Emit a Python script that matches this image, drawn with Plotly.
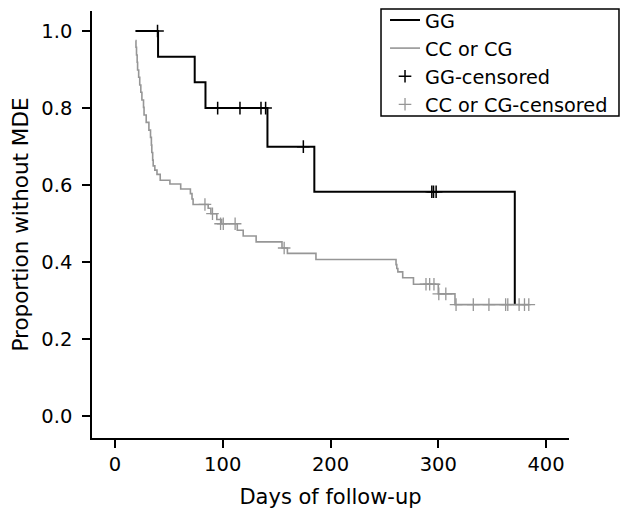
import plotly.graph_objects as go

# GG group (Kaplan-Meier steps)
gg_days = [19, 40, 74, 84, 141.5, 185, 371]
gg_surv = [1.0, 0.933, 0.867, 0.800, 0.700, 0.583, 0.292]
gg_cens_days = [39.5, 95.3, 116, 135.5, 139.8, 174.8, 294, 295.6, 298]
gg_cens_surv = [1.0, 0.8, 0.8, 0.8, 0.8, 0.7, 0.583, 0.583, 0.583]

# CC or CG group
cc_days = [19, 19.5, 20, 20.6, 21, 22, 23, 24, 25, 26.5, 27, 29, 31.5, 33, 33.8,
           34.2, 35, 35.5, 37, 39, 42, 51, 61, 70, 71.5, 72.5, 86.5, 89, 94.5, 99,
           113.5, 119, 131, 155, 160, 186.5, 260.8, 261.5, 262.5, 267, 277, 300,
           315.5, 384]
cc_surv = [0.975, 0.958, 0.938, 0.919, 0.899, 0.880, 0.860, 0.841, 0.821, 0.802,
           0.782, 0.763, 0.743, 0.724, 0.704, 0.685, 0.665, 0.650, 0.639, 0.628,
           0.613, 0.603, 0.590, 0.578, 0.564, 0.550, 0.540, 0.526, 0.511, 0.500,
           0.483, 0.468, 0.453, 0.437, 0.423, 0.407, 0.394, 0.384, 0.375, 0.360,
           0.343, 0.318, 0.290, 0.290]
cc_cens_days = [83.5, 90.5, 98, 100.5, 111.5, 157, 288.6, 292, 296, 300.5, 307,
                316.5, 332.5, 347, 362.5, 364.5, 375, 380, 384]
cc_cens_surv = [0.550, 0.526, 0.500, 0.500, 0.500, 0.437, 0.343, 0.343, 0.343,
                0.318, 0.318, 0.290, 0.290, 0.290, 0.290, 0.290, 0.290, 0.290, 0.290]

x_ticks = [0, 100, 200, 300, 400]
y_ticks = [0.0, 0.2, 0.4, 0.6, 0.8, 1.0]

BLACK = "#000000"
GRAY = "#969696"
FONT = "DejaVu Sans"

fig = go.Figure()
fig.add_trace(go.Scatter(x=gg_days, y=gg_surv, mode="lines", name="GG",
                         line=dict(color=BLACK, width=2, shape="hv")))
fig.add_trace(go.Scatter(x=cc_days, y=cc_surv, mode="lines", name="CC or CG",
                         line=dict(color=GRAY, width=1.6, shape="hv")))
fig.add_trace(go.Scatter(x=gg_cens_days, y=gg_cens_surv, mode="markers",
                         name="GG-censored",
                         marker=dict(symbol="cross-thin", size=9,
                                     line=dict(color=BLACK, width=1.5))))
fig.add_trace(go.Scatter(x=cc_cens_days, y=cc_cens_surv, mode="markers",
                         name="CC or CG-censored",
                         marker=dict(symbol="cross-thin", size=9,
                                     line=dict(color=GRAY, width=1.3))))

# legend frame (tighter padding than plotly's own legend border)
fig.add_shape(type="rect", xref="paper", yref="paper",
              x0=0.6059, x1=1.1048, y0=0.7539, y1=1.0047,
              line=dict(color="black", width=1.5), fillcolor="white",
              layer="above")

# the page body adds an 8px margin, so the figure is 8px smaller each way
fig.update_layout(
    width=621, height=513,
    margin=dict(l=84, r=60, t=3, b=83, autoexpand=False),
    paper_bgcolor="white", plot_bgcolor="white",
    font=dict(family=FONT, size=19.5, color="black"),
    showlegend=True,
    legend=dict(x=0.6143, y=1.0235, xanchor="left", yanchor="top",
                borderwidth=0, bgcolor="rgba(0,0,0,0)",
                font=dict(family=FONT, size=19.3, color="black"),
                tracegroupgap=0, itemwidth=30),
)
fig.update_xaxes(range=[-21.3, 421.3], tickvals=x_ticks, automargin=False,
                 showline=True, linecolor="black", linewidth=1.5,
                 ticks="outside", ticklen=8, tickwidth=1.5, tickcolor="black",
                 ticklabelstandoff=0,
                 showgrid=False, zeroline=False,
                 title=dict(text="Days of follow-up", font=dict(size=21),
                            standoff=14))
fig.update_yaxes(range=[-0.056, 1.052], tickvals=y_ticks, tickformat=".1f",
                 automargin=False,
                 showline=True, linecolor="black", linewidth=1.5,
                 ticks="outside", ticklen=8, tickwidth=1.5, tickcolor="black",
                 ticklabelstandoff=6,
                 showgrid=False, zeroline=False,
                 title=dict(text="Proportion without MDE", font=dict(size=21.5),
                            standoff=19))

fig.write_html("out.html")
